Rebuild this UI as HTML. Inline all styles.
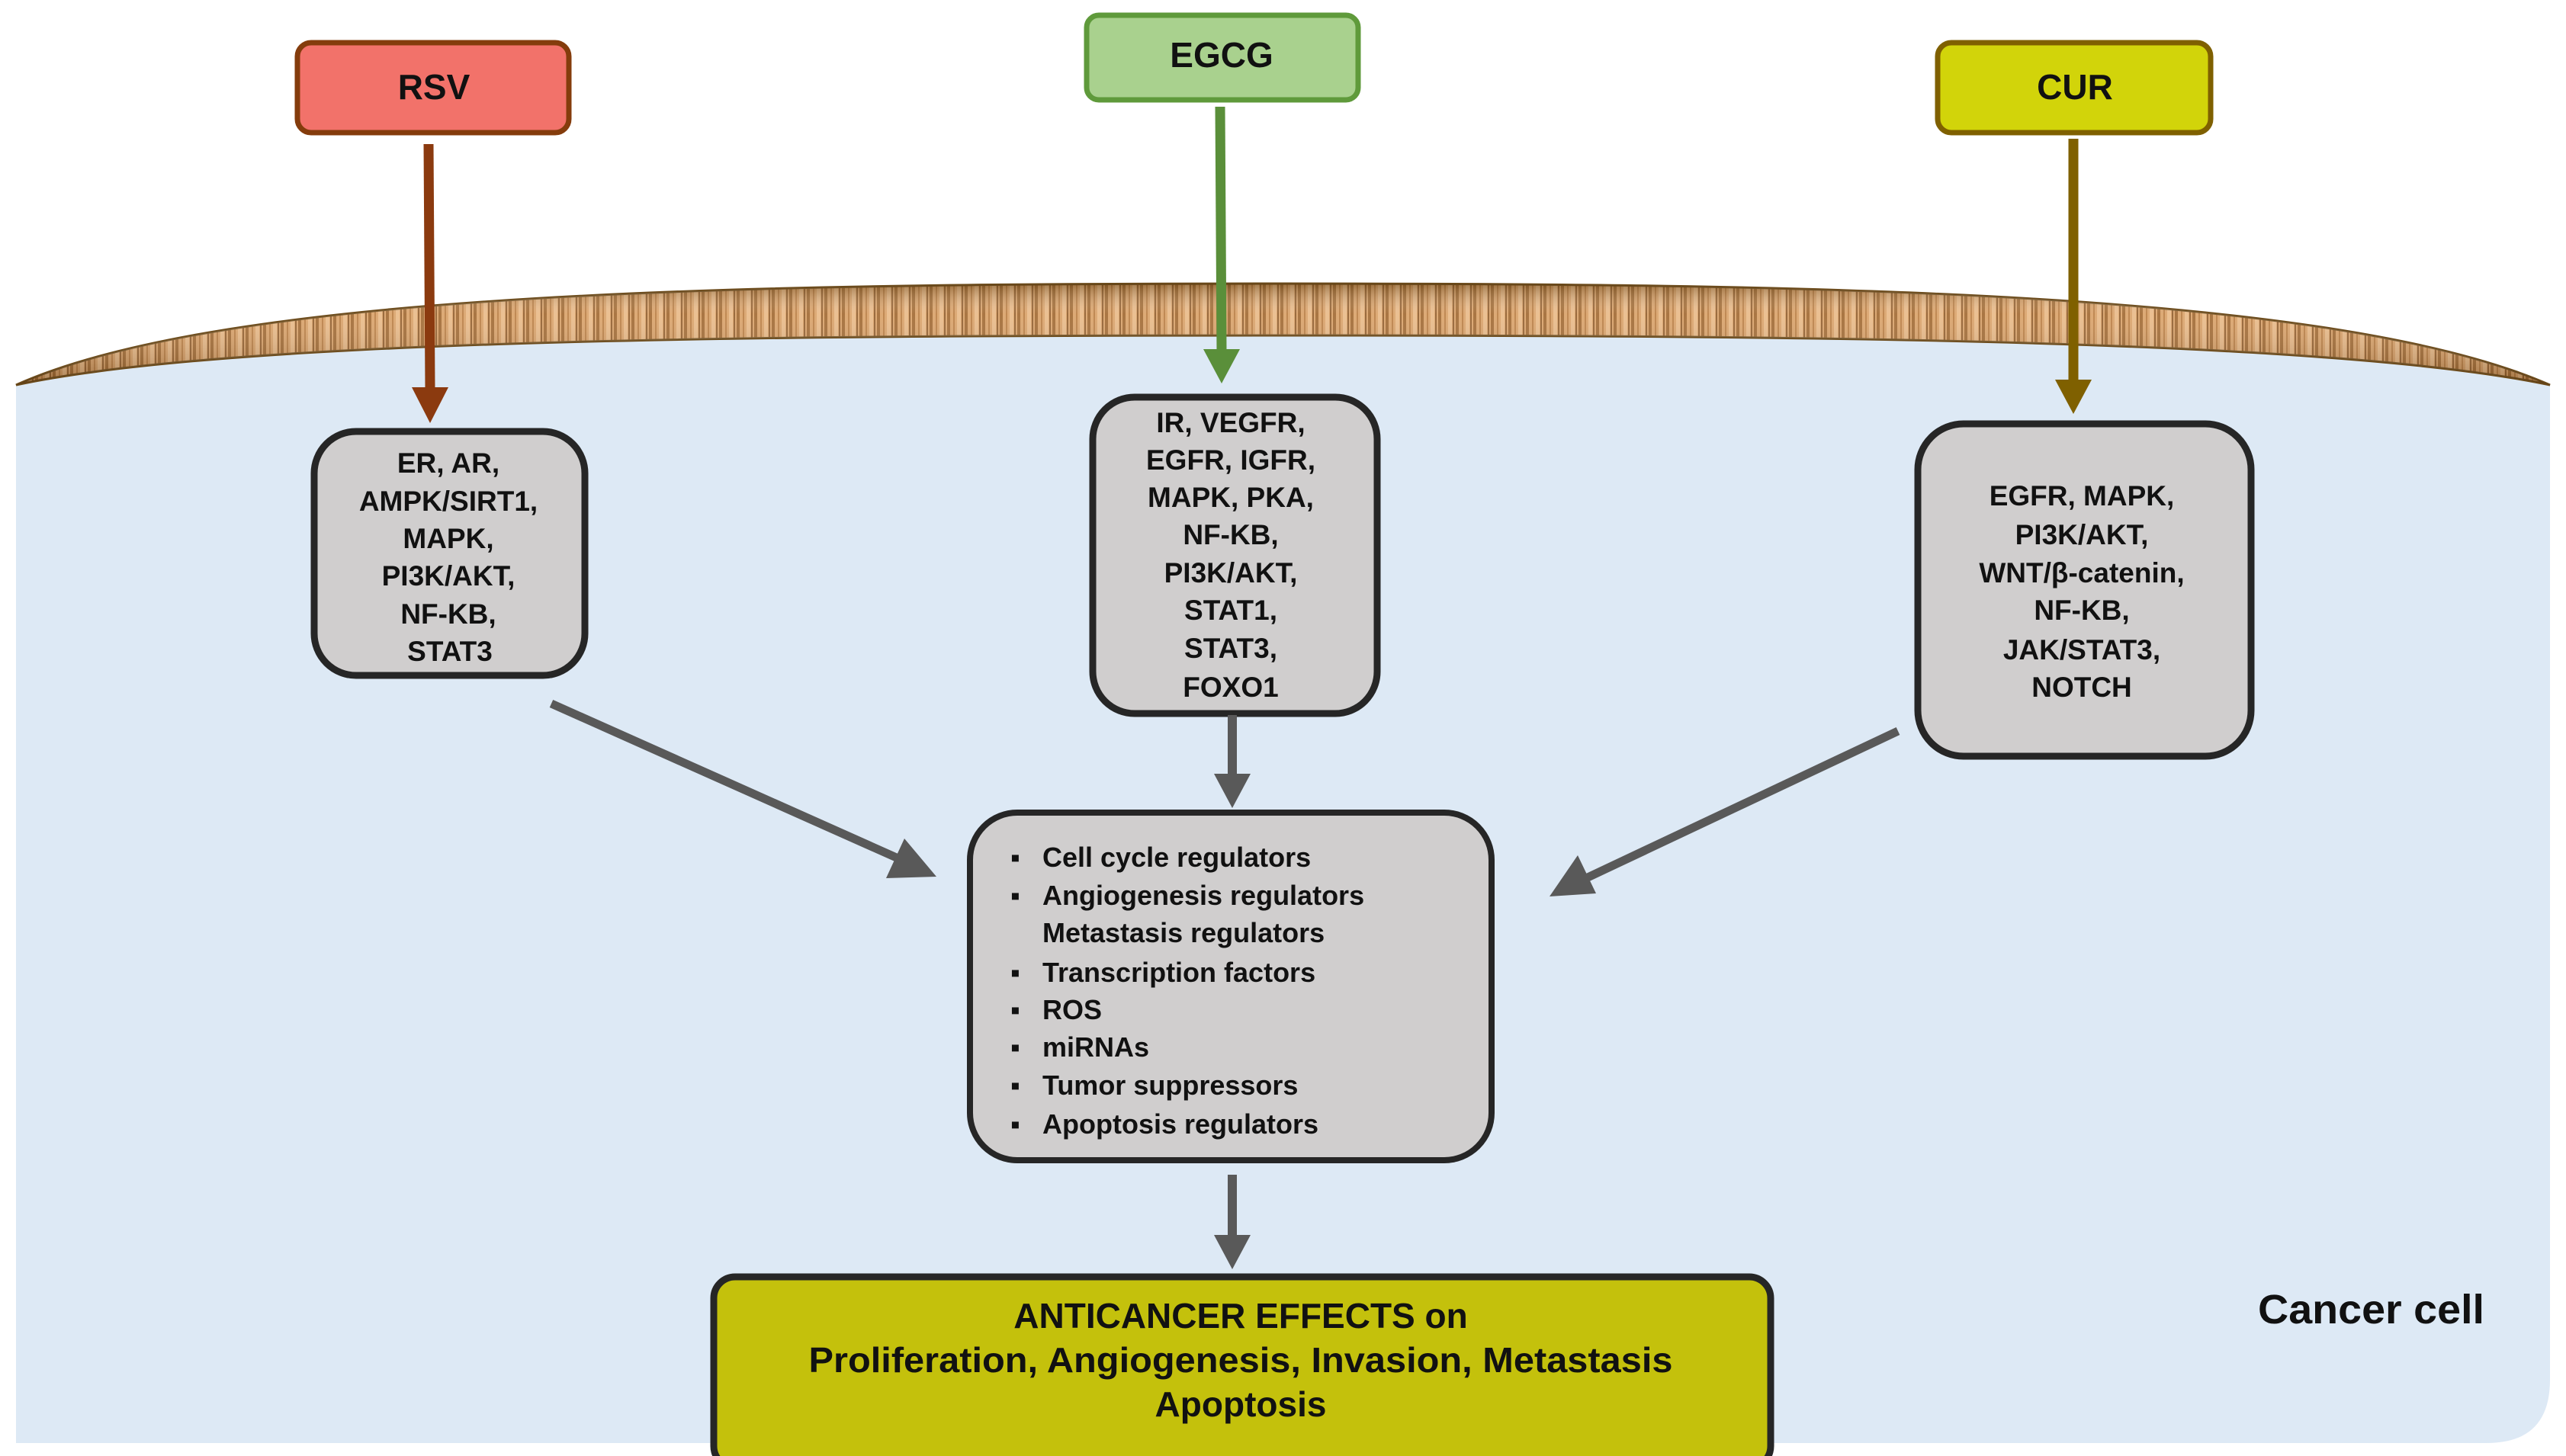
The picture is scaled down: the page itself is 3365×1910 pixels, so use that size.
<!DOCTYPE html>
<html><head><meta charset="utf-8"><style>
html,body{margin:0;padding:0;background:#fff}
svg{display:block}
text{font-family:"Liberation Sans",Arial,sans-serif;font-weight:bold;fill:#111}
</style></head><body>
<svg width="3365" height="1910" viewBox="0 0 3365 1910" xmlns="http://www.w3.org/2000/svg">
<defs>
<pattern id="wood" width="23" height="100" patternUnits="userSpaceOnUse">
<rect width="23" height="100" fill="#d9a066"/>
<rect x="0" width="4" height="100" fill="#a0672e"/>
<rect x="8" width="2" height="100" fill="#b97c40"/>
<rect x="13" width="5" height="100" fill="#e9b986"/>
<rect x="19" width="2" height="100" fill="#8f5a28"/>
</pattern>
<linearGradient id="shade" x1="0" y1="0" x2="0" y2="1">
<stop offset="0" stop-color="#5a3a10" stop-opacity="0.5"/>
<stop offset="0.3" stop-color="#fff" stop-opacity="0.1"/>
<stop offset="1" stop-color="#4a2a08" stop-opacity="0.4"/>
</linearGradient>
</defs>
<path d="M21,505 C300,445 1000,440 1680,440 C2360,440 3060,445 3344,505 L3344,1810 Q3344,1893 3261,1893 L21,1893 Z" fill="#dde9f5"/>
<path d="M21,505 C300,380 1000,372 1680,372 C2360,372 3060,380 3344,505 C3060,445 2360,440 1680,440 C1000,440 300,445 21,505 Z" fill="url(#wood)" stroke="#6b4a1a" stroke-width="3"/>
<path d="M21,505 C300,380 1000,372 1680,372 C2360,372 3060,380 3344,505 C3060,445 2360,440 1680,440 C1000,440 300,445 21,505 Z" fill="url(#shade)"/>

<rect x="390" y="56" width="356" height="118" rx="18" fill="#f2726a" stroke="#843c0c" stroke-width="7"/>
<text x="569" y="130" font-size="46" text-anchor="middle">RSV</text>
<rect x="1425" y="20" width="356" height="111" rx="16" fill="#a9d18e" stroke="#5f9a3b" stroke-width="7"/>
<text x="1602" y="88" font-size="46" text-anchor="middle">EGCG</text>
<rect x="2541" y="56" width="358" height="118" rx="18" fill="#d2d40a" stroke="#7f6000" stroke-width="7"/>
<text x="2721" y="130" font-size="46" text-anchor="middle">CUR</text>

<line x1="562" y1="189" x2="564" y2="510" stroke="#8b3a0f" stroke-width="13"/>
<polygon points="540,508 588,508 564,555" fill="#8b3a0f"/>
<line x1="1600" y1="140" x2="1602" y2="460" stroke="#5a8f3a" stroke-width="13"/>
<polygon points="1578,458 1626,458 1602,503" fill="#5a8f3a"/>
<line x1="2719" y1="182" x2="2719" y2="500" stroke="#7f6000" stroke-width="13"/>
<polygon points="2695,498 2743,498 2719,543" fill="#7f6000"/>

<rect x="412" y="566" width="355" height="320" rx="55" fill="#d0cece" stroke="#262626" stroke-width="9"/>
<g font-size="37" text-anchor="middle">
<text x="588" y="620">ER, AR,</text>
<text x="588" y="670">AMPK/SIRT1,</text>
<text x="588" y="719">MAPK,</text>
<text x="588" y="768">PI3K/AKT,</text>
<text x="588" y="818">NF-KB,</text>
<text x="590" y="867">STAT3</text>
</g>
<rect x="1433" y="521" width="373" height="415" rx="55" fill="#d0cece" stroke="#262626" stroke-width="9"/>
<g font-size="37" text-anchor="middle">
<text x="1614" y="567">IR, VEGFR,</text>
<text x="1614" y="616">EGFR, IGFR,</text>
<text x="1614" y="665">MAPK, PKA,</text>
<text x="1614" y="714">NF-KB,</text>
<text x="1614" y="764">PI3K/AKT,</text>
<text x="1614" y="813">STAT1,</text>
<text x="1614" y="863">STAT3,</text>
<text x="1614" y="914">FOXO1</text>
</g>
<rect x="2515" y="556" width="437" height="436" rx="60" fill="#d0cece" stroke="#262626" stroke-width="9"/>
<g font-size="37" text-anchor="middle">
<text x="2730" y="663">EGFR, MAPK,</text>
<text x="2730" y="714">PI3K/AKT,</text>
<text x="2730" y="764">WNT/β-catenin,</text>
<text x="2730" y="813">NF-KB,</text>
<text x="2730" y="865">JAK/STAT3,</text>
<text x="2730" y="914">NOTCH</text>
</g>

<line x1="723" y1="923" x2="1180" y2="1127" stroke="#595959" stroke-width="11"/>
<polygon points="1228,1150 1162,1152 1186,1100" fill="#595959"/>
<line x1="1616" y1="938" x2="1616" y2="1020" stroke="#595959" stroke-width="12"/>
<polygon points="1592,1015 1640,1015 1616,1060" fill="#595959"/>
<line x1="2489" y1="959" x2="2080" y2="1152" stroke="#595959" stroke-width="11"/>
<polygon points="2032,1176 2069,1122 2093,1172" fill="#595959"/>
<line x1="1616" y1="1541" x2="1616" y2="1625" stroke="#595959" stroke-width="12"/>
<polygon points="1592,1620 1640,1620 1616,1665" fill="#595959"/>

<rect x="1272" y="1066" width="684" height="456" rx="62" fill="#d0cece" stroke="#262626" stroke-width="8"/>
<g font-size="36">
<text x="1325" y="1137">▪</text><text x="1367" y="1137">Cell cycle regulators</text>
<text x="1325" y="1187">▪</text><text x="1367" y="1187">Angiogenesis regulators</text>
<text x="1367" y="1236">Metastasis regulators</text>
<text x="1325" y="1288">▪</text><text x="1367" y="1288">Transcription factors</text>
<text x="1325" y="1337">▪</text><text x="1367" y="1337">ROS</text>
<text x="1325" y="1386">▪</text><text x="1367" y="1386">miRNAs</text>
<text x="1325" y="1436">▪</text><text x="1367" y="1436">Tumor suppressors</text>
<text x="1325" y="1487">▪</text><text x="1367" y="1487">Apoptosis regulators</text>
</g>

<rect x="936" y="1675" width="1386" height="250" rx="28" fill="#c4c10c" stroke="#262626" stroke-width="9"/>
<g font-size="46" text-anchor="middle">
<text x="1627" y="1742">ANTICANCER  EFFECTS  on</text>
<text x="1627" y="1800" textLength="1133" lengthAdjust="spacingAndGlyphs">Proliferation, Angiogenesis, Invasion, Metastasis</text>
<text x="1627" y="1858">Apoptosis</text>
</g>
<text x="2961" y="1736" font-size="54" textLength="297" lengthAdjust="spacingAndGlyphs">Cancer cell</text>
</svg>
</body></html>
